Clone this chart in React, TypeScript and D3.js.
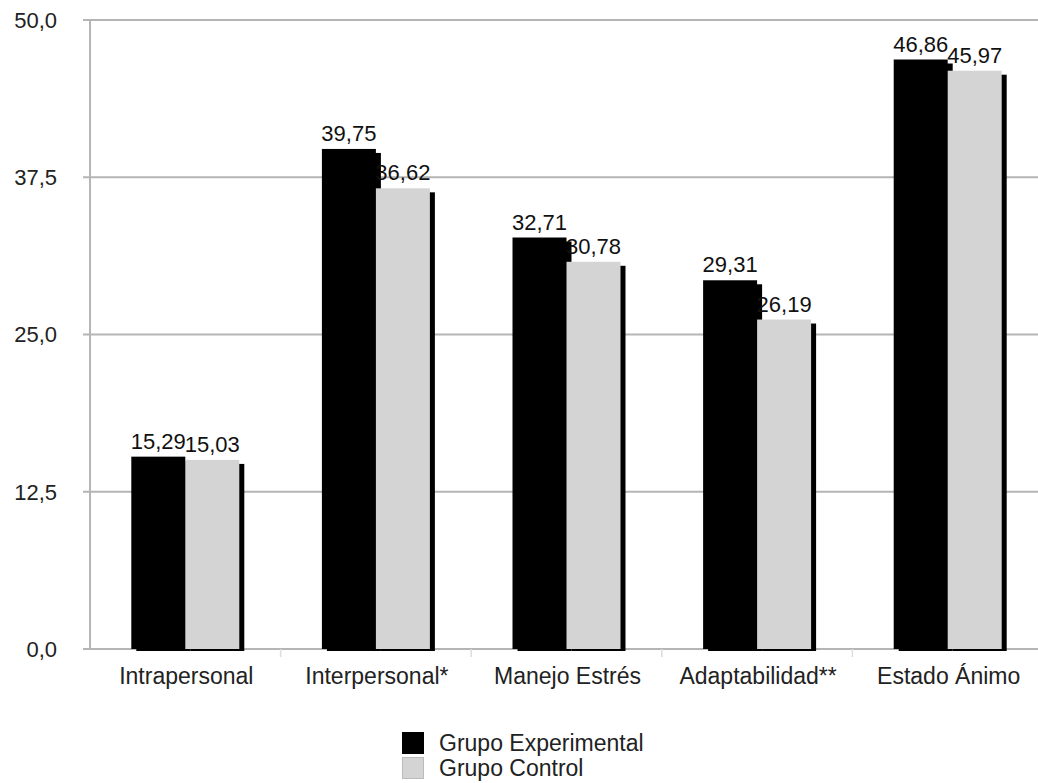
import * as d3 from 'd3'

const categories = ['Intrapersonal', 'Interpersonal*', 'Manejo Estrés', 'Adaptabilidad**', 'Estado Ánimo']
const series = ['Grupo Experimental', 'Grupo Control']
const experimental = [15.29, 39.75, 32.71, 29.31, 46.86]
const control = [15.03, 36.62, 30.78, 26.19, 45.97]
const yTicks = [0, 12.5, 25, 37.5, 50]
const colors = ['#000000', '#d4d4d4']

const W = 1038
const H = 783
const font = '"Liberation Sans", Arial, Helvetica, sans-serif'
const fmt = (v: number) => v.toFixed(2).replace('.', ',')
const fmtTick = (v: number) => v.toFixed(1).replace('.', ',')

export default function App() {
  const x0 = d3.scaleBand<string>().domain(categories).range([90, 1043]).padding(0)
  const x1 = d3.scaleBand<string>().domain(series).range([0, x0.step()]).paddingInner(0).paddingOuter(0.765)
  const y = d3.scaleLinear().domain([0, 50]).range([649, 20])

  const values = [experimental, control]
  const bars = categories.flatMap((c, i) =>
    series.map((s, j) => ({ c, s, j, v: values[j][i] }))
  )
  const bw = x1.bandwidth()

  return (
    <svg width={W} height={H} style={{ position: 'absolute', left: 0, top: 0, background: '#fff' }}>
      {/* grid */}
      {yTicks.map(t => (
        <g key={t}>
          <line x1={83} x2={W} y1={y(t)} y2={y(t)} stroke="#b5b5b5" strokeWidth={2} />
          <text x={57} y={y(t) + 2} textAnchor="end" dominantBaseline="middle"
            fontFamily={font} fontSize={22} fill="#222">{fmtTick(t)}</text>
        </g>
      ))}
      <line x1={90} x2={90} y1={y(50)} y2={y(0) + 1} stroke="#b5b5b5" strokeWidth={2} />
      {categories.slice(1).map(c => (
        <line key={c} x1={x0(c)!} x2={x0(c)!} y1={y(0)} y2={y(0) + 8} stroke="#ddd" strokeWidth={1.5} />
      ))}

      {/* shadows */}
      {bars.map(b => (
        <rect key={'sh' + b.c + b.s} x={x0(b.c)! + x1(b.s)! + 5} y={y(b.v) + 4}
          width={bw} height={y(0) - y(b.v) - 2} fill="#000" />
      ))}
      {/* bars */}
      {bars.map(b => (
        <rect key={b.c + b.s} x={x0(b.c)! + x1(b.s)!} y={y(b.v)}
          width={bw} height={y(0) - y(b.v)} fill={colors[b.j]} />
      ))}
      {/* value labels */}
      {bars.map(b => (
        <text key={'l' + b.c + b.s} x={x0(b.c)! + x1(b.s)! + bw / 2} y={y(b.v) - 8}
          textAnchor="middle" fontFamily={font} fontSize={22} fill="#111">{fmt(b.v)}</text>
      ))}

      {/* x labels */}
      {categories.map(c => (
        <text key={c} x={x0(c)! + x0.bandwidth() / 2 + 1} y={684} textAnchor="middle"
          fontFamily={font} fontSize={23} fill="#222">{c}</text>
      ))}

      {/* legend */}
      {series.map((s, j) => (
        <g key={s} transform={`translate(402, ${732 + j * 25})`}>
          <rect x={0.5} y={0.5} width={21} height={21} fill={colors[j]} stroke={j === 0 ? '#000' : '#bbb'} />
          <text x={37} y={19} fontFamily={font} fontSize={23} fill="#222">{s}</text>
        </g>
      ))}
    </svg>
  )
}
